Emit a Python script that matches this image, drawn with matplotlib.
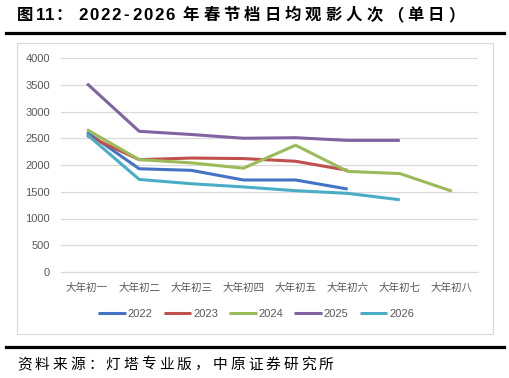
import matplotlib
matplotlib.use("Agg")
import matplotlib.pyplot as plt
from matplotlib.lines import Line2D

plt.rcParams['font.family'] = ['Noto Sans CJK SC', 'DejaVu Sans']

categories = ['大年初一', '大年初二', '大年初三', '大年初四', '大年初五', '大年初六', '大年初七', '大年初八']
s2022 = [2610, 1930, 1900, 1720, 1720, 1550]
s2023 = [2550, 2100, 2130, 2120, 2070, 1900]
s2024 = [2660, 2100, 2040, 1940, 2370, 1880, 1840, 1510]
s2025 = [3520, 2630, 2570, 2500, 2510, 2460, 2460]
s2026 = [2570, 1730, 1650, 1590, 1520, 1470, 1350]
series_names = ['2022', '2023', '2024', '2025', '2026']
series = [s2022, s2023, s2024, s2025, s2026]
colors = ['#4472C4', '#C0504D', '#9BBB59', '#8064A2', '#4BACC6']
yticks = [0, 500, 1000, 1500, 2000, 2500, 3000, 3500, 4000]

W, H = 510, 378
fig = plt.figure(figsize=(W / 100, H / 100), dpi=100)

def fx(px):
    return px / W

def fy(py):
    return 1 - py / H

def spaced(text, x0, pitch, y, **kw):
    """Draw text one character at a time, centred on an even pitch (letter spacing)."""
    for i, ch in enumerate(text):
        fig.text(fx(x0 + pitch * i), fy(y), ch, ha='center', va='center', **kw)

# Title (spaced like the source document)
tkw_cjk = dict(fontsize=11.8, fontweight='bold', color='#000000')
tkw_lat = dict(fontsize=12.2, fontweight='bold', color='#000000',
               family=['Liberation Sans', 'DejaVu Sans'])
spaced('图', 25.5, 20, 15, **tkw_cjk)
spaced('11', 41, 8.6, 15, **tkw_lat)
spaced('：', 64, 20, 15, **tkw_cjk)
spaced('2022-2026', 83, 10.9, 15, **tkw_lat)
spaced('年春节档日均观影人次（单日）', 191, 20.4, 15, **tkw_cjk)
fig.add_artist(Line2D([fx(6), fx(504)], [fy(32.5), fy(32.5)], color='black', lw=2.3))

# Chart box
fig.add_artist(plt.Rectangle((fx(17), fy(334)), fx(493) - fx(17), fy(43) - fy(334),
                             fill=False, edgecolor='#D9D9D9', lw=0.8))

ax = fig.add_axes([fx(61), fy(272), fx(478) - fx(61), fy(58) - fy(272)])
x = list(range(len(categories)))
for name, vals, c in zip(series_names, series, colors):
    ax.plot(x[:len(vals)], vals, color=c, lw=2.2, label=name, solid_capstyle='butt')

ax.set_xlim(-0.5, len(categories) - 0.5)
ax.set_ylim(0, 4000)
ax.set_yticks(yticks)
ax.set_yticklabels([str(v) for v in yticks], family=['Liberation Sans', 'DejaVu Sans'],
                   fontsize=8, color='#595959')
ax.set_xticks(x)
ax.set_xticklabels(categories, fontsize=7.6, color='#595959')
ax.tick_params(axis='both', length=0)
ax.tick_params(axis='y', pad=8)
ax.tick_params(axis='x', pad=8)
ax.grid(axis='y', color='#D9D9D9', lw=0.9)
ax.set_axisbelow(True)
for sp in ax.spines.values():
    sp.set_visible(False)
ax.spines['bottom'].set_visible(True)
ax.spines['bottom'].set_color('#D9D9D9')

leg = fig.legend(*ax.get_legend_handles_labels(), loc='center',
                 bbox_to_anchor=(fx(256), fy(314)), ncol=5, frameon=False,
                 prop={'family': ['Liberation Sans', 'DejaVu Sans'], 'size': 8},
                 labelcolor='#595959', handlelength=2.5, columnspacing=1.0,
                 handletextpad=0.15)

# Bottom line and source
fig.add_artist(Line2D([fx(6), fx(504)], [fy(347), fy(347)], color='black', lw=2.3))
spaced('资料来源：灯塔专业版，中原证券研究所', 24.5, 17.75, 364.5, fontsize=10.6, color='#000000')

fig.savefig('out.png', dpi=100)
